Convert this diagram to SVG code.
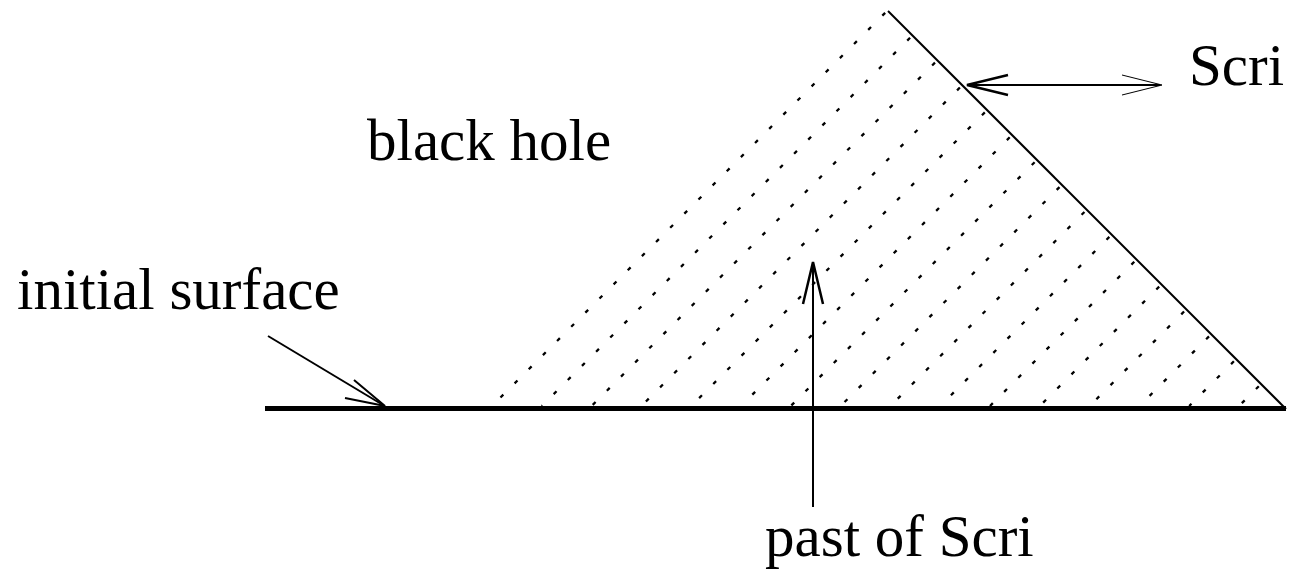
<svg xmlns="http://www.w3.org/2000/svg" width="1290" height="571" viewBox="0 0 1290 571">
<style>
.lbl{font-family:"Liberation Serif","Times New Roman",serif;font-size:59px;fill:#000}
.ln{stroke:#000;fill:none;stroke-width:2}
.dot{stroke:#000;fill:none;stroke-width:2.3;stroke-dasharray:4 16}
.thin{stroke:#000;fill:none;stroke-width:1}
.head{stroke:#000;fill:none;stroke-width:2.5}
</style>
<rect width="1290" height="571" fill="#fff"/>
<g id="hatch">
<line class="dot" stroke-dashoffset="8" x1="492" y1="406" x2="887" y2="11"/>
<line class="dot" stroke-dashoffset="3.2" x1="541.8" y1="406" x2="911.9" y2="35.9"/>
<line class="dot" stroke-dashoffset="18.4" x1="591.6" y1="406" x2="936.8" y2="60.8"/>
<line class="dot" stroke-dashoffset="13.6" x1="641.4" y1="406" x2="961.7" y2="85.7"/>
<line class="dot" stroke-dashoffset="8.8" x1="691.2" y1="406" x2="986.6" y2="110.6"/>
<line class="dot" stroke-dashoffset="4" x1="741" y1="406" x2="1011.5" y2="135.5"/>
<line class="dot" stroke-dashoffset="19.2" x1="790.8" y1="406" x2="1036.4" y2="160.4"/>
<line class="dot" stroke-dashoffset="14.4" x1="840.6" y1="406" x2="1061.3" y2="185.3"/>
<line class="dot" stroke-dashoffset="9.6" x1="890.4" y1="406" x2="1086.2" y2="210.2"/>
<line class="dot" stroke-dashoffset="4.8" x1="940.2" y1="406" x2="1111.1" y2="235.1"/>
<line class="dot" stroke-dashoffset="0" x1="990" y1="406" x2="1136" y2="260"/>
<line class="dot" stroke-dashoffset="15.2" x1="1039.8" y1="406" x2="1160.9" y2="284.9"/>
<line class="dot" stroke-dashoffset="10.4" x1="1089.6" y1="406" x2="1185.8" y2="309.8"/>
<line class="dot" stroke-dashoffset="5.6" x1="1139.4" y1="406" x2="1210.7" y2="334.7"/>
<line class="dot" stroke-dashoffset="0.8" x1="1189.2" y1="406" x2="1235.6" y2="359.6"/>
<line class="dot" stroke-dashoffset="16" x1="1239" y1="406" x2="1260.5" y2="384.5"/>
</g>
<g id="initial-surface-line">
<line x1="265" y1="408.5" x2="1286" y2="408.5" stroke="#000" stroke-width="5"/>
</g>
<g id="scri-line">
<line class="ln" x1="888" y1="11" x2="1286" y2="409"/>
</g>
<g id="connectors">
<line class="ln" x1="967" y1="85" x2="1160" y2="85" stroke-width="2.4"/>
<polyline class="head" points="1008,75 967,85 1008,95"/>
<polyline class="thin" points="1122,75 1162,85 1122,95"/>
<line class="ln" x1="268" y1="336" x2="383" y2="405"/>
<polyline class="ln" points="354,380 385,406 345,398"/>
<line class="ln" x1="813" y1="507" x2="813" y2="264"/>
<polyline class="head" points="803,304 813,262 823,304"/>
</g>
<g id="label-scri"><text class="lbl" x="1189" y="85">Scri</text></g>
<g id="label-black-hole"><text class="lbl" x="367" y="160">black hole</text></g>
<g id="label-initial-surface"><text class="lbl" x="17" y="309">initial surface</text></g>
<g id="label-past-of-scri"><text class="lbl" x="765" y="556">past of Scri</text></g>
</svg>
